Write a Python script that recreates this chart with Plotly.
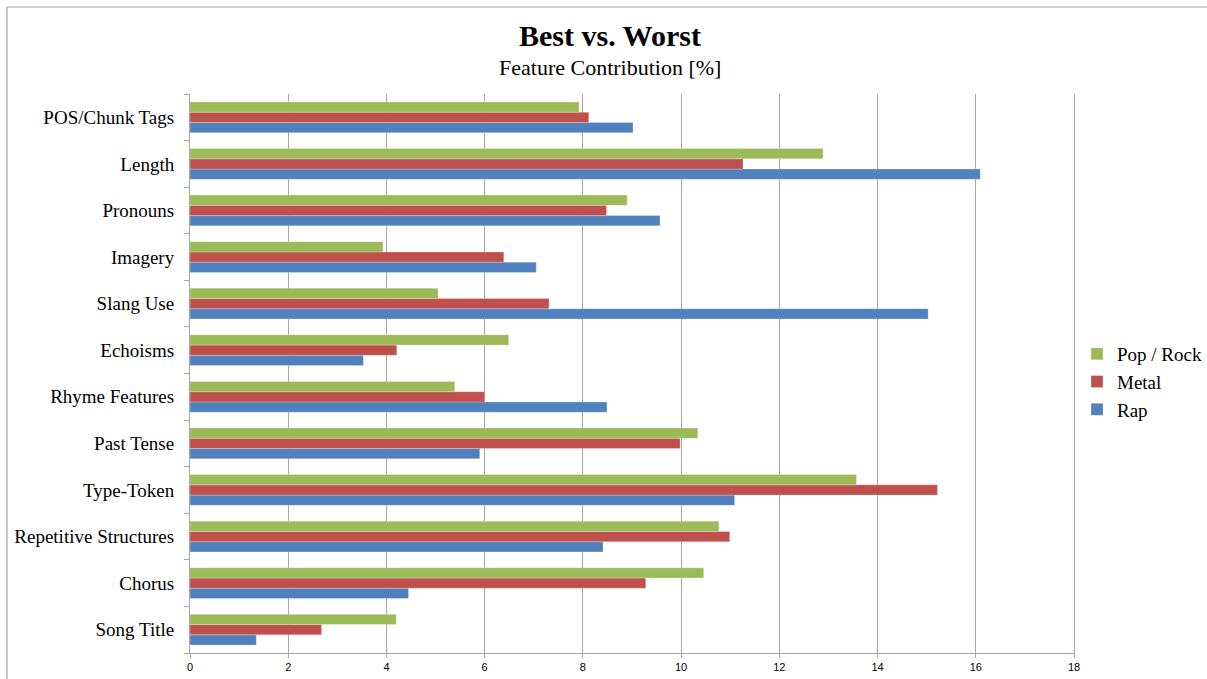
import plotly.graph_objects as go

categories = ["Song Title", "Chorus", "Repetitive Structures", "Type-Token", "Past Tense",
              "Rhyme Features", "Echoisms", "Slang Use", "Imagery", "Pronouns", "Length",
              "POS/Chunk Tags"]
rap = [1.35, 4.45, 8.41, 11.09, 5.90, 8.49, 3.53, 15.03, 7.05, 9.57, 16.09, 9.02]
metal = [2.68, 9.28, 10.99, 15.22, 9.98, 6.00, 4.21, 7.31, 6.39, 8.48, 11.26, 8.12]
pop_rock = [4.20, 10.46, 10.77, 13.57, 10.34, 5.39, 6.49, 5.05, 3.93, 8.90, 12.89, 7.92]
x_ticks = [0, 2, 4, 6, 8, 10, 12, 14, 16, 18]

series = [("Rap", rap, "#4F81BD"), ("Metal", metal, "#C0504D"), ("Pop / Rock", pop_rock, "#9BBB59")]

fig = go.Figure()
for name, vals, col in series:
    fig.add_trace(go.Bar(y=categories, x=vals, name=name, orientation="h",
                         marker=dict(color=col, line=dict(color="rgba(255,255,255,0.5)", width=0.5))))

W, H = 1207, 679
L, R, T, B = 190, 1074, 94, 653

def px_x(p):
    return (p - L) / (R - L)

def px_y(p):
    return (B - p) / (B - T)

fig.update_layout(
    width=W, height=H,
    margin=dict(l=L, r=W - R, t=T, b=H - B, autoexpand=False),
    barmode="group", bargap=0.34, bargroupgap=0,
    plot_bgcolor="white", paper_bgcolor="white",
    showlegend=True,
    legend=dict(x=px_x(1077), y=px_y(382), xanchor="left", yanchor="middle",
                traceorder="reversed",
                font=dict(family="Liberation Serif", size=19, color="black"),
                itemwidth=30, tracegroupgap=0, bgcolor="rgba(0,0,0,0)"),
    xaxis=dict(range=[0, 18], tickvals=x_ticks, ticktext=[str(v) for v in x_ticks],
               showgrid=True, gridcolor="#A6A6A6", gridwidth=1,
               showline=True, linecolor="#A6A6A6", linewidth=1,
               ticks="outside", ticklen=4, tickcolor="#A6A6A6",
               tickfont=dict(family="Liberation Sans", size=11, color="black"),
               zeroline=False, fixedrange=True),
    yaxis=dict(categoryorder="array", categoryarray=categories,
               showline=True, linecolor="#A6A6A6", linewidth=1, mirror=True,
               ticks="outside", ticklen=5, tickcolor="#A6A6A6", tickson="boundaries",
               ticklabelstandoff=11,
               tickfont=dict(family="Liberation Serif", size=19, color="black"),
               showgrid=False, fixedrange=True),
    annotations=[
        dict(text="<b>Best vs. Worst</b>", x=px_x(610), y=px_y(36), xref="paper", yref="paper",
             showarrow=False, xanchor="center", yanchor="middle",
             font=dict(family="Liberation Serif", size=30, color="black")),
        dict(text="Feature Contribution [%]", x=px_x(610), y=px_y(68), xref="paper", yref="paper",
             showarrow=False, xanchor="center", yanchor="middle",
             font=dict(family="Liberation Serif", size=22, color="black")),
    ],
    shapes=[dict(type="rect", xref="paper", yref="paper",
                 x0=px_x(7), x1=px_x(1215), y0=px_y(690), y1=px_y(7),
                 line=dict(color="#A0A0A0", width=1.2), layer="below")],
)

fig.write_html("out.html")
